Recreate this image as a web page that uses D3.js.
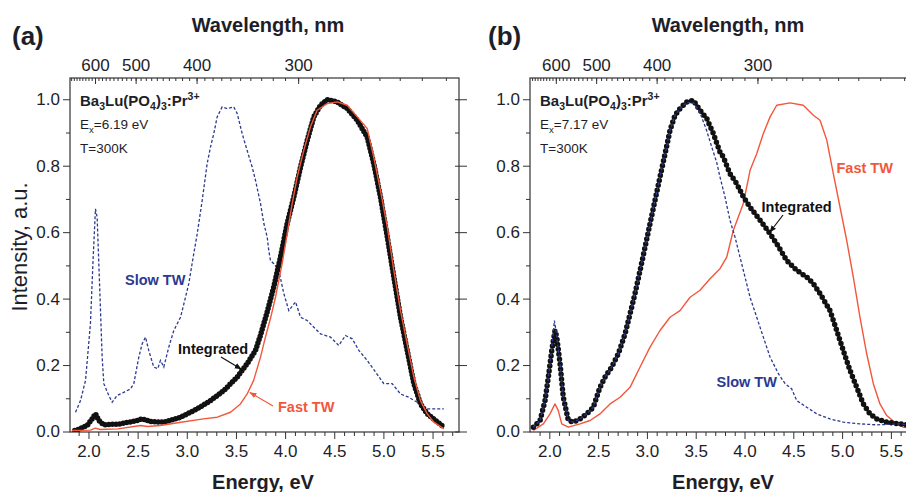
<!DOCTYPE html>
<html>
<head>
<meta charset="utf-8">
<script src="https://cdn.jsdelivr.net/npm/d3@7"></script>
<style>
  body { margin: 0; background: #fff; }
  svg { display: block; font-family: "Liberation Sans", Arial, Helvetica, sans-serif; }
</style>
</head>
<body>
<svg id="chart" width="906" height="492"></svg>
<script>
// Luminescence spectra of Ba3Lu(PO4)3:Pr3+ at T = 300 K, normalized intensity vs photon energy (eV).
// Each series: [energy eV, intensity a.u.]

// (a) excitation 6.19 eV
const aSlow = [
  [1.868,0.058],[1.919,0.093],[1.97,0.154],[2.02,0.325],[2.048,0.525],[2.071,0.67],[2.088,0.645],
  [2.115,0.425],[2.139,0.224],[2.156,0.144],[2.207,0.108],[2.241,0.088],[2.29,0.108],[2.36,0.118],
  [2.427,0.128],[2.461,0.144],[2.512,0.224],[2.546,0.264],[2.58,0.284],[2.613,0.244],[2.664,0.194],
  [2.705,0.189],[2.732,0.214],[2.766,0.194],[2.817,0.254],[2.868,0.304],[2.936,0.344],[2.987,0.404],
  [3.02,0.445],[3.071,0.535],[3.106,0.595],[3.157,0.696],[3.207,0.806],[3.241,0.856],[3.275,0.897],
  [3.309,0.947],[3.36,0.977],[3.41,0.972],[3.478,0.977],[3.513,0.957],[3.563,0.897],[3.614,0.846],
  [3.665,0.796],[3.699,0.756],[3.75,0.686],[3.784,0.626],[3.818,0.585],[3.834,0.545],[3.851,0.515],
  [3.885,0.505],[3.936,0.485],[3.987,0.415],[4.038,0.364],[4.106,0.39],[4.157,0.344],[4.225,0.334],
  [4.292,0.314],[4.36,0.294],[4.462,0.284],[4.546,0.259],[4.614,0.289],[4.683,0.279],[4.75,0.244],
  [4.835,0.214],[4.92,0.179],[5.004,0.144],[5.089,0.144],[5.174,0.113],[5.258,0.103],[5.344,0.088],
  [5.446,0.068],[5.614,0.068]
];
const aFast = [
  [1.83,0.003],[2.02,0.004],[2.07,0.01],[2.12,0.006],[2.3,0.008],[2.53,0.018],[2.6,0.015],[2.73,0.018],
  [2.94,0.028],[3.17,0.038],[3.31,0.043],[3.445,0.058],[3.546,0.083],[3.614,0.113],[3.68,0.154],
  [3.75,0.224],[3.80,0.284],[3.851,0.34],[3.902,0.404],[3.97,0.505],[4.021,0.595],[4.072,0.686],
  [4.123,0.766],[4.19,0.846],[4.258,0.917],[4.326,0.967],[4.428,0.987],[4.53,0.992],[4.632,0.982],
  [4.734,0.947],[4.835,0.912],[4.902,0.826],[4.97,0.726],[5.04,0.615],[5.106,0.485],[5.174,0.364],
  [5.242,0.264],[5.31,0.164],[5.377,0.093],[5.446,0.053],[5.513,0.028],[5.615,0.008]
];
const aIntegrated = [
  [1.86,0.003],[1.885,0.005],[1.987,0.018],[2.037,0.038],[2.071,0.053],[2.105,0.033],[2.156,0.02],
  [2.325,0.023],[2.495,0.033],[2.546,0.038],[2.63,0.03],[2.766,0.028],[2.936,0.043],[3.106,0.068],
  [3.241,0.093],[3.376,0.123],[3.513,0.164],[3.614,0.204],[3.699,0.244],[3.75,0.29],[3.818,0.36],
  [3.885,0.435],[3.953,0.525],[4.021,0.626],[4.089,0.706],[4.157,0.796],[4.225,0.876],[4.292,0.947],
  [4.36,0.982],[4.428,0.999],[4.53,0.992],[4.632,0.972],[4.734,0.937],[4.835,0.886],[4.902,0.806],
  [4.97,0.706],[5.04,0.585],[5.106,0.465],[5.174,0.344],[5.242,0.244],[5.31,0.144],[5.377,0.083],
  [5.446,0.053],[5.53,0.033],[5.615,0.013]
];

// (b) excitation 7.17 eV
const bIntegrated = [
  [1.836,0.013],[1.905,0.033],[1.956,0.093],[1.99,0.164],[2.025,0.244],[2.058,0.304],[2.076,0.284],
  [2.11,0.204],[2.143,0.103],[2.195,0.033],[2.246,0.028],[2.315,0.038],[2.383,0.053],[2.451,0.073],
  [2.519,0.133],[2.571,0.164],[2.639,0.194],[2.707,0.234],[2.776,0.294],[2.827,0.354],[2.878,0.415],
  [2.93,0.485],[2.981,0.555],[3.032,0.626],[3.083,0.696],[3.134,0.766],[3.186,0.836],[3.237,0.907],
  [3.288,0.952],[3.339,0.972],[3.408,0.992],[3.475,0.997],[3.544,0.967],[3.613,0.942],[3.68,0.897],
  [3.749,0.841],[3.783,0.826],[3.851,0.776],[3.92,0.746],[3.988,0.706],[4.057,0.675],[4.159,0.636],
  [4.262,0.595],[4.33,0.565],[4.432,0.515],[4.535,0.485],[4.637,0.465],[4.705,0.445],[4.774,0.415],
  [4.876,0.364],[4.945,0.304],[5.012,0.244],[5.081,0.184],[5.15,0.133],[5.217,0.083],[5.286,0.053],
  [5.355,0.038],[5.457,0.028],[5.593,0.023],[5.66,0.02]
];
const bSlow = [
  [1.836,0.013],[1.905,0.033],[1.956,0.093],[1.99,0.164],[2.025,0.25],[2.052,0.334],[2.07,0.3],
  [2.11,0.204],[2.143,0.103],[2.195,0.033],[2.246,0.028],[2.315,0.038],[2.383,0.053],[2.451,0.073],
  [2.519,0.133],[2.571,0.164],[2.639,0.194],[2.707,0.234],[2.776,0.294],[2.827,0.354],[2.878,0.415],
  [2.93,0.485],[2.981,0.555],[3.032,0.626],[3.083,0.696],[3.134,0.766],[3.186,0.836],[3.237,0.907],
  [3.288,0.952],[3.339,0.972],[3.408,0.99],[3.475,0.99],[3.544,0.96],[3.613,0.905],[3.66,0.86],
  [3.715,0.81],[3.749,0.766],[3.8,0.706],[3.851,0.636],[3.903,0.585],[3.954,0.525],[4.005,0.465],
  [4.057,0.404],[4.125,0.344],[4.193,0.284],[4.262,0.224],[4.347,0.174],[4.416,0.144],[4.484,0.128],
  [4.535,0.093],[4.637,0.073],[4.74,0.053],[4.876,0.038],[5.012,0.028],[5.183,0.023],[5.355,0.02],
  [5.593,0.023],[5.66,0.02]
];
const bFast = [
  [1.836,0.003],[1.939,0.023],[2.007,0.053],[2.058,0.083],[2.092,0.063],[2.127,0.023],[2.195,0.013],
  [2.315,0.023],[2.417,0.033],[2.519,0.053],[2.622,0.083],[2.725,0.103],[2.827,0.133],[2.93,0.194],
  [3.032,0.254],[3.134,0.304],[3.237,0.344],[3.339,0.364],[3.442,0.404],[3.544,0.425],[3.647,0.46],
  [3.749,0.49],[3.818,0.525],[3.885,0.605],[3.988,0.686],[4.057,0.786],[4.125,0.836],[4.193,0.897],
  [4.262,0.947],[4.33,0.982],[4.466,0.989],[4.602,0.982],[4.705,0.952],[4.774,0.937],[4.843,0.877],
  [4.91,0.776],[4.979,0.675],[5.047,0.575],[5.115,0.465],[5.183,0.344],[5.252,0.234],[5.32,0.144],
  [5.388,0.083],[5.457,0.048],[5.559,0.023],[5.627,0.013],[5.70,0.01]
];

// Axis ticks
const energyTicks = [2.0, 2.5, 3.0, 3.5, 4.0, 4.5, 5.0, 5.5];
const energyMinorTicks = d3.range(19, 58).map(v => v / 10);
const intensityTicks = [0.0, 0.2, 0.4, 0.6, 0.8, 1.0];
const intensityMinorTicks = [0.1, 0.3, 0.5, 0.7, 0.9];
const wavelengthLabels = [600, 500, 400, 300];
const wavelengthMinor = d3.range(220, 690, 10);
const HC = 1239.84; // eV·nm

const COLORS = { fast: "#f2573c", slow: "#2b3990", integrated: "#111", text: "#1e1e28" };

const svg = d3.select("#chart");
const PW = 389;            // plot width
const TOP = 78, BOTTOM = 432;

const y = d3.scaleLinear().domain([-0.0015, 1.064]).range([BOTTOM, TOP]);

// arrowheads
const defs = svg.append("defs");
[["arrowBlack", "#111"], ["arrowRed", COLORS.fast]].forEach(([id, c]) => {
  defs.append("marker").attr("id", id).attr("viewBox", "0 0 10 10")
    .attr("refX", 9).attr("refY", 5).attr("markerWidth", 7).attr("markerHeight", 7)
    .attr("markerUnits", "userSpaceOnUse").attr("orient", "auto")
    .append("path").attr("d", "M0,1 L10,5 L0,9 Z").attr("fill", c);
});

const panels = [
  { id: "a", left: 70, tagX: 12, domain: [1.812, 5.769], ex: "6.19", dotGap: "0,3.6",
    slow: aSlow, fast: aFast, integrated: aIntegrated, order: ["slow", "integrated", "fast"],
    rightAxis: true,
    labels: [
      { t: "Slow TW", x: 125, y: 285, c: COLORS.slow },
      { t: "Integrated", x: 178, y: 353.5, c: "#111", arrow: [221, 357, 241, 369], m: "arrowBlack" },
      { t: "Fast TW", x: 278, y: 411.5, c: COLORS.fast, arrow: [273, 406, 250, 392.5], m: "arrowRed" }
    ] },
  { id: "b", left: 530, tagX: 488, domain: [1.802, 5.788], ex: "7.17", dotGap: "0,5",
    slow: bSlow, fast: bFast, integrated: bIntegrated, order: ["fast", "integrated", "slow"],
    rightAxis: false,
    labels: [
      { t: "Integrated", x: 761.5, y: 211.5, c: "#111", arrow: [783, 215, 770, 232], m: "arrowBlack" },
      { t: "Fast TW", x: 836.5, y: 173, c: COLORS.fast },
      { t: "Slow TW", x: 716.5, y: 386.5, c: COLORS.slow }
    ] }
];

function styleAxis(g, size) {
  g.select(".domain").remove();
  g.selectAll(".tick line").attr("stroke", "#333").attr("stroke-width", 1);
  g.selectAll(".tick text").attr("fill", COLORS.text).attr("font-size", size)
    .attr("font-family", "Liberation Sans, Arial, sans-serif");
}

panels.forEach(p => {
  const x = d3.scaleLinear().domain(p.domain).range([p.left, p.left + PW]);
  const g = svg.append("g");

  // clip region for the curves
  defs.append("clipPath").attr("id", "clip-" + p.id).append("rect")
    .attr("x", p.left).attr("y", TOP).attr("width", PW).attr("height", BOTTOM - TOP);

  const line = d3.line().x(d => x(d[0])).y(d => y(d[1]));
  const curves = g.append("g").attr("clip-path", `url(#clip-${p.id})`);

  p.order.forEach(k => {
    if (k === "slow") {
      curves.append("path").datum(p.slow).attr("d", line).attr("fill", "none")
        .attr("stroke", COLORS.slow).attr("stroke-width", 1.3).attr("stroke-dasharray", "3,2");
    } else if (k === "fast") {
      curves.append("path").datum(p.fast).attr("d", line).attr("fill", "none")
        .attr("stroke", COLORS.fast).attr("stroke-width", 1.4).attr("stroke-linejoin", "round");
    } else {
      curves.append("path").datum(p.integrated).attr("d", line).attr("fill", "none")
        .attr("stroke", COLORS.integrated).attr("stroke-width", 1.2);
      // round symbols along the integrated spectrum
      curves.append("path").datum(p.integrated).attr("d", line).attr("fill", "none")
        .attr("stroke", COLORS.integrated).attr("stroke-width", 5.5)
        .attr("stroke-linecap", "round").attr("stroke-dasharray", p.dotGap);
    }
  });

  // frame
  g.append("rect").attr("x", p.left).attr("y", TOP).attr("width", PW).attr("height", BOTTOM - TOP)
    .attr("fill", "none").attr("stroke", "#333").attr("stroke-width", 1.2);

  // bottom energy axis
  const bx = g.append("g").attr("transform", `translate(0,${BOTTOM})`)
    .call(d3.axisBottom(x).tickValues(energyTicks).tickSize(7).tickPadding(6).tickFormat(d3.format(".1f")));
  styleAxis(bx, 17);
  const bxm = g.append("g").attr("transform", `translate(0,${BOTTOM})`)
    .call(d3.axisBottom(x).tickValues(energyMinorTicks.filter(v => !energyTicks.includes(v))).tickSize(4).tickFormat(""));
  styleAxis(bxm, 0);

  // left intensity axis
  const ly = g.append("g").attr("transform", `translate(${p.left},0)`)
    .call(d3.axisLeft(y).tickValues(intensityTicks).tickSize(7).tickPadding(3).tickFormat(d3.format(".1f")));
  styleAxis(ly, 17);
  const lym = g.append("g").attr("transform", `translate(${p.left},0)`)
    .call(d3.axisLeft(y).tickValues(intensityMinorTicks).tickSize(4).tickFormat(""));
  styleAxis(lym, 0);

  // right intensity axis (ticks only)
  if (p.rightAxis) {
    const rx = p.left + PW;
    const ry = g.append("g").attr("transform", `translate(${rx},0)`)
      .call(d3.axisRight(y).tickValues(intensityTicks).tickSizeInner(8).tickSizeOuter(0).tickFormat(""));
    styleAxis(ry, 0);
    ry.selectAll(".tick line").attr("x1", -4);
    const rym = g.append("g").attr("transform", `translate(${rx},0)`)
      .call(d3.axisRight(y).tickValues(intensityMinorTicks).tickSize(-4).tickFormat(""));
    styleAxis(rym, 0);
  }

  // top wavelength axis (energy = hc / lambda)
  const inRange = e => e >= p.domain[0] && e <= p.domain[1];
  const tx = g.append("g").attr("transform", `translate(0,${TOP})`)
    .call(d3.axisTop(x).tickValues(wavelengthLabels.map(l => HC / l)).tickSizeInner(-6).tickSizeOuter(0)
      .tickPadding(7).tickFormat(e => Math.round(HC / e)));
  styleAxis(tx, 17);
  const txm = g.append("g").attr("transform", `translate(0,${TOP})`)
    .call(d3.axisTop(x).tickValues(wavelengthMinor.map(l => HC / l).filter(inRange))
      .tickSizeInner(-3).tickSizeOuter(0).tickFormat(""));
  styleAxis(txm, 0);
  [700, 200].map(l => HC / l).filter(inRange).forEach(e => {
    g.append("line").attr("x1", x(e)).attr("x2", x(e)).attr("y1", TOP).attr("y2", TOP + 6).attr("stroke", "#333");
  });

  // axis titles
  g.append("text").attr("x", p.left + 198).attr("y", 32).attr("text-anchor", "middle")
    .attr("font-size", 20).attr("font-weight", "bold").attr("fill", COLORS.text).text("Wavelength, nm");
  g.append("text").attr("x", p.left + 193).attr("y", 489).attr("text-anchor", "middle")
    .attr("font-size", 20).attr("font-weight", "bold").attr("fill", COLORS.text).text("Energy, eV");
  g.append("text").attr("x", p.tagX).attr("y", 45)
    .attr("font-size", 26).attr("font-weight", "bold").attr("fill", COLORS.text).text(`(${p.id})`);

  // sample description
  const t1 = g.append("text").attr("x", p.left + 10).attr("y", 106)
    .attr("font-size", 15).attr("font-weight", "bold").attr("fill", COLORS.text);
  t1.append("tspan").text("Ba");
  t1.append("tspan").attr("font-size", 10.5).attr("dy", 4).text("3");
  t1.append("tspan").attr("dy", -4).text("Lu(PO");
  t1.append("tspan").attr("font-size", 10.5).attr("dy", 4).text("4");
  t1.append("tspan").attr("dy", -4).text(")");
  t1.append("tspan").attr("font-size", 10.5).attr("dy", 4).text("3");
  t1.append("tspan").attr("dy", -4).text(":Pr");
  t1.append("tspan").attr("font-size", 10.5).attr("dy", -6).text("3+");

  const t2 = g.append("text").attr("x", p.left + 10).attr("y", 129)
    .attr("font-size", 13.5).attr("fill", COLORS.text);
  t2.append("tspan").text("E");
  t2.append("tspan").attr("font-size", 9.5).attr("dy", 4).text("x");
  t2.append("tspan").attr("dy", -4).text(`=${p.ex} eV`);
  g.append("text").attr("x", p.left + 10).attr("y", 153)
    .attr("font-size", 13.5).attr("fill", COLORS.text).text("T=300K");

  // series labels and pointers
  p.labels.forEach(l => {
    g.append("text").attr("x", l.x).attr("y", l.y).attr("font-size", 14.5).attr("font-weight", "bold")
      .attr("fill", l.c).text(l.t);
    if (l.arrow) {
      g.append("line").attr("x1", l.arrow[0]).attr("y1", l.arrow[1]).attr("x2", l.arrow[2]).attr("y2", l.arrow[3])
        .attr("stroke", l.c).attr("stroke-width", 1.2).attr("marker-end", `url(#${l.m})`);
    }
  });
});

// shared y title
svg.append("text").attr("transform", "translate(27,247) rotate(-90)").attr("text-anchor", "middle")
  .attr("font-size", 22).attr("fill", COLORS.text).text("Intensity, a.u.");
</script>
</body>
</html>
